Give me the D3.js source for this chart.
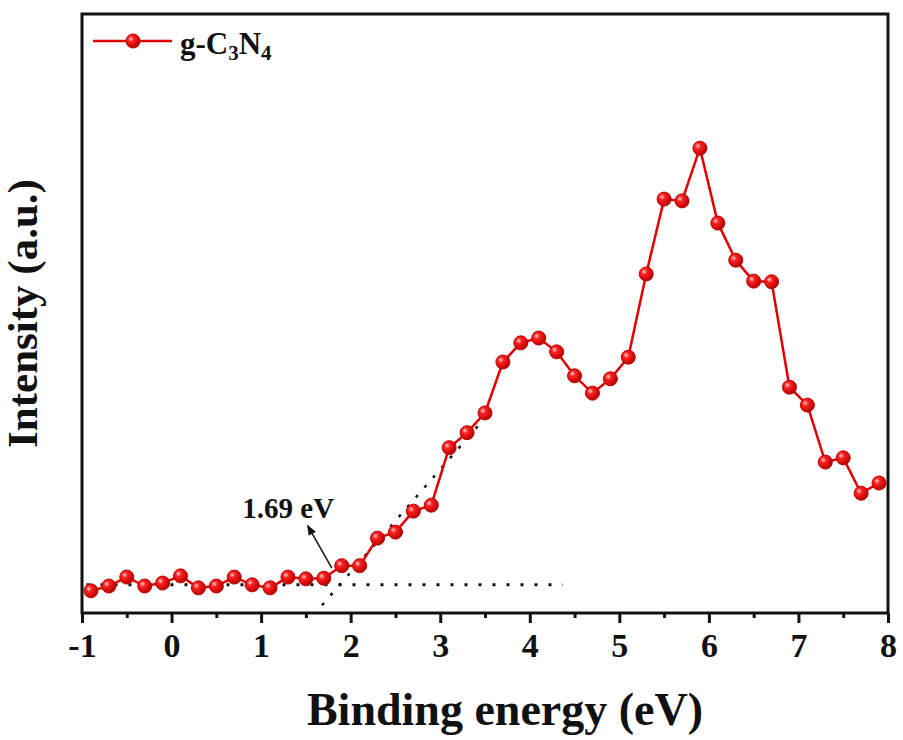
<!DOCTYPE html>
<html>
<head>
<meta charset="utf-8">
<script src="https://cdn.jsdelivr.net/npm/d3@7"></script>
<style>
    body { margin: 0; background: #fff; }
    text { font-family: "Liberation Serif", "Times New Roman", serif; font-weight: bold; fill: #111; }
</style>
</head>
<body>
<svg id="chart" width="903" height="740"></svg>
<script>
// binding energy (eV), step 0.2
var energy = d3.range(45).map(function(i) { return +(-0.9 + i * 0.2).toFixed(1); });
// intensity (a.u.)
var intensity = [3.7, 4.5, 6.0, 4.5, 5.0, 6.2, 4.2, 4.5, 6.0, 4.7,
                 4.2, 6.0, 5.7, 5.8, 7.9, 7.9, 12.5, 13.5, 17.0, 18.0,
                 27.6, 30.1, 33.4, 41.9, 45.1, 45.9, 43.6, 39.6, 36.7, 39.1,
                 42.7, 56.6, 69.1, 68.8, 77.6, 65.1, 58.9, 55.4, 55.3, 37.7,
                 34.7, 25.2, 25.9, 20.0, 21.7];
var xTicks = [-1, 0, 1, 2, 3, 4, 5, 6, 7, 8];
// baseline and tangent used for the band edge extrapolation
var baseline = [[-0.95, 4.7], [4.37, 4.7]];
var tangent = [[1.68, 1.3], [3.56, 33.6]];
var edgeLabel = "1.69 eV";

var data = energy.map(function(e, i) { return {x: e, y: intensity[i]}; });

var margin = {top: 14, right: 15, bottom: 127, left: 82},
    width = 903 - margin.left - margin.right,
    height = 740 - margin.top - margin.bottom;

var svg = d3.select("#chart");
var defs = svg.append("defs");

var grad = defs.append("radialGradient")
    .attr("id", "ball")
    .attr("cx", "35%").attr("cy", "35%").attr("r", "70%");
grad.append("stop").attr("offset", "0%").attr("stop-color", "#ffd0d0");
grad.append("stop").attr("offset", "30%").attr("stop-color", "#ff2020");
grad.append("stop").attr("offset", "100%").attr("stop-color", "#b00000");

defs.append("marker")
    .attr("id", "arrow")
    .attr("viewBox", "0 0 10 10")
    .attr("refX", 9).attr("refY", 5)
    .attr("markerWidth", 7).attr("markerHeight", 7)
    .attr("orient", "auto")
    .append("path")
    .attr("d", "M0,1 L10,5 L0,9 Z")
    .attr("fill", "#111");

var g = svg.append("g")
    .attr("transform", "translate(" + margin.left + "," + margin.top + ")");

var x = d3.scaleLinear().domain([-1, 8]).range([0, width]);
var y = d3.scaleLinear().domain([0, 100]).range([height, 0]);

// dotted guide lines
var guide = d3.line()
    .x(function(d) { return x(d[0]); })
    .y(function(d) { return y(d[1]); });

g.append("path")
    .attr("d", guide(baseline))
    .attr("stroke", "#111")
    .attr("stroke-width", 3)
    .attr("stroke-dasharray", "3,11")
    .attr("fill", "none");

g.append("path")
    .attr("d", guide(tangent))
    .attr("stroke", "#111")
    .attr("stroke-width", 2.5)
    .attr("stroke-dasharray", "3,10")
    .attr("fill", "none");

// spectrum line
var line = d3.line()
    .x(function(d) { return x(d.x); })
    .y(function(d) { return y(d.y); });

g.append("path")
    .datum(data)
    .attr("d", line)
    .attr("fill", "none")
    .attr("stroke", "#e00000")
    .attr("stroke-width", 2.5);

g.selectAll(".dot")
    .data(data)
    .enter().append("circle")
    .attr("class", "dot")
    .attr("cx", function(d) { return x(d.x); })
    .attr("cy", function(d) { return y(d.y); })
    .attr("r", 7)
    .attr("fill", "url(#ball)")
    .attr("stroke", "#c00000")
    .attr("stroke-width", 1);

// annotation arrow + label
g.append("line")
    .attr("x1", x(1.79)).attr("y1", y(7.5))
    .attr("x2", x(1.52)).attr("y2", y(14.6))
    .attr("stroke", "#111")
    .attr("stroke-width", 1.5)
    .attr("marker-end", "url(#arrow)");

g.append("text")
    .attr("x", x(0.79))
    .attr("y", y(15.9))
    .style("font-size", "29px")
    .text(edgeLabel);

// x axis
var xAxis = g.append("g")
    .attr("class", "axis axis--x")
    .attr("transform", "translate(0," + height + ")")
    .call(d3.axisBottom(x).tickValues(xTicks).tickSize(10).tickPadding(10)
        .tickFormat(d3.format("d")));

xAxis.select(".domain").remove();
xAxis.selectAll(".tick line").attr("stroke", "#111").attr("stroke-width", 3);
xAxis.selectAll(".tick text")
    .style("font-size", "34px")
    .attr("fill", "#111")
    .text(function(d) { return d < 0 ? "-" + Math.abs(d) : d; });

var minor = g.append("g")
    .attr("transform", "translate(0," + height + ")")
    .call(d3.axisBottom(x).tickValues(d3.range(-0.5, 8, 1)).tickSize(5).tickFormat(""));
minor.select(".domain").remove();
minor.selectAll(".tick line").attr("stroke", "#111").attr("stroke-width", 3);

// frame
g.append("rect")
    .attr("width", width)
    .attr("height", height)
    .attr("fill", "none")
    .attr("stroke", "#111")
    .attr("stroke-width", 3);

// axis titles
g.append("text")
    .attr("x", width / 2 + 20)
    .attr("y", height + 112)
    .attr("text-anchor", "middle")
    .style("font-size", "46px")
    .text("Binding energy (eV)");

g.append("text")
    .attr("transform", "translate(" + (-45) + "," + (height / 2) + ") rotate(-90)")
    .attr("text-anchor", "middle")
    .style("font-size", "43px")
    .text("Intensity (a.u.)");

// legend
var legend = g.append("g")
    .attr("transform", "translate(" + 11 + "," + 27 + ")");

legend.append("line")
    .attr("x1", 0).attr("x2", 79)
    .attr("stroke", "#e00000")
    .attr("stroke-width", 2.5);

legend.append("circle")
    .attr("cx", 40)
    .attr("r", 7)
    .attr("fill", "url(#ball)")
    .attr("stroke", "#c00000");

var lt = legend.append("text")
    .attr("x", 87)
    .attr("y", 13)
    .style("font-size", "31px");
lt.append("tspan").text("g-C");
lt.append("tspan").attr("dy", 6).style("font-size", "21px").text("3");
lt.append("tspan").attr("dy", -6).text("N");
lt.append("tspan").attr("dy", 6).style("font-size", "21px").text("4");
</script>
</body>
</html>
